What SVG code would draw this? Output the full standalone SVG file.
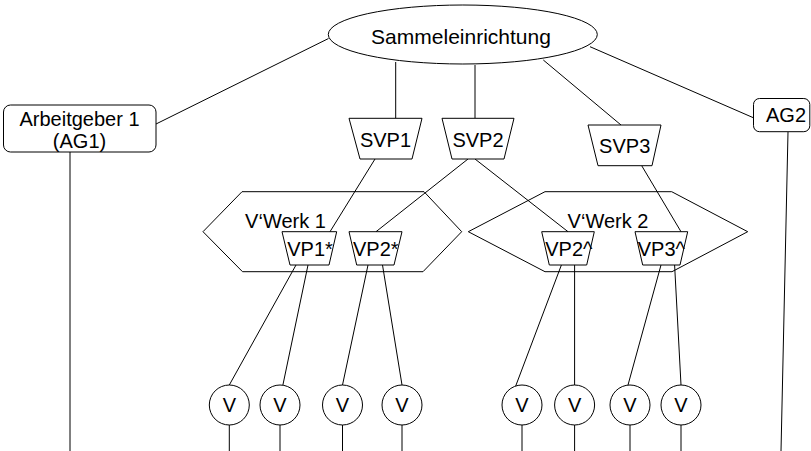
<svg xmlns="http://www.w3.org/2000/svg" width="811" height="451" viewBox="0 0 811 451">
<style>
.s{fill:#fff;stroke:#000;stroke-width:1}
.h{fill:none;stroke:#000;stroke-width:1}
.c line{stroke:#000;stroke-width:1}
text{font-family:"Liberation Sans",Arial,sans-serif;font-size:20px;fill:#000;text-anchor:middle}
</style>
<rect width="811" height="451" fill="#fff"/>
<g id="werk1"><polygon class="h" points="203,231.7 242,191.7 424,191.7 461.7,231.7 423,271.7 242.5,271.7"/><text x="285.5" y="227.7">V‘Werk 1</text></g>
<g id="werk2"><polygon class="h" points="468.3,231.7 545,191.7 671.7,191.7 747.7,231.7 672,271.7 545,271.7"/><text x="608" y="227.7">V‘Werk 2</text></g>
<g class="c" id="connectors">
<line x1="328.5" y1="38.5" x2="156" y2="124"/>
<line x1="395.7" y1="62" x2="395.7" y2="118.3"/>
<line x1="475" y1="65" x2="475" y2="118.3"/>
<line x1="543.3" y1="60" x2="621" y2="125"/>
<line x1="590" y1="46.7" x2="754" y2="118"/>
<line x1="375" y1="159" x2="330" y2="231.7"/>
<line x1="468" y1="159" x2="376" y2="231.7"/>
<line x1="475" y1="159" x2="568" y2="231.7"/>
<line x1="641.7" y1="165.7" x2="681" y2="231.7"/>
<line x1="296" y1="265" x2="229.3" y2="385"/>
<line x1="308" y1="265" x2="282.9" y2="385"/>
<line x1="368" y1="265" x2="342.5" y2="385"/>
<line x1="382.5" y1="265" x2="402" y2="385"/>
<line x1="561.4" y1="265" x2="515.7" y2="386"/>
<line x1="574.6" y1="265" x2="574.6" y2="385"/>
<line x1="661" y1="265" x2="628" y2="385"/>
<line x1="674.6" y1="265" x2="681" y2="385"/>
<line x1="70" y1="152" x2="70" y2="451"/>
<line x1="788" y1="132" x2="781" y2="451"/>
<line x1="229.3" y1="425" x2="229.3" y2="451"/>
<line x1="280" y1="425" x2="280" y2="451"/>
<line x1="342.5" y1="425" x2="342.5" y2="451"/>
<line x1="402" y1="425" x2="402" y2="451"/>
<line x1="522" y1="425" x2="522" y2="451"/>
<line x1="574.6" y1="425" x2="574.6" y2="451"/>
<line x1="630" y1="425" x2="630" y2="451"/>
<line x1="681" y1="425" x2="681" y2="451"/>
</g>
<g id="sammel"><ellipse class="s" cx="462.8" cy="34.5" rx="134.5" ry="29.5"/><text x="461" y="44" style="font-size:21px">Sammeleinrichtung</text></g>
<g id="ag1"><rect class="s" x="3.5" y="105" width="152.5" height="47" rx="7"/><text x="79.5" y="125.7">Arbeitgeber 1</text><text x="79.5" y="148">(AG1)</text></g>
<g id="ag2"><rect class="s" x="753.5" y="98.5" width="56.3" height="33.2" rx="6"/><text x="786" y="121.7">AG2</text></g>
<g id="svp1"><polygon class="s" points="349,118.3 422,118.3 412,159 360,159"/><text x="385.5" y="146.7">SVP1</text></g>
<g id="svp2"><polygon class="s" points="442,118.3 514,118.3 504,159 452,159"/><text x="478" y="146.7">SVP2</text></g>
<g id="svp3"><polygon class="s" points="588,125 661,125 652,165.7 598,165.7"/><text x="624.7" y="153">SVP3</text></g>
<g id="vp1s"><polygon class="h" points="282,231.7 336.7,231.7 329,265 290,265"/><text x="310" y="255.7">VP1*</text></g>
<g id="vp2s"><polygon class="h" points="349,231.7 402,231.7 394,265 356.7,265"/><text x="375.8" y="255.7">VP2*</text></g>
<g id="vp2c"><polygon class="h" points="541.7,231.7 594.3,231.7 586.7,265 549.3,265"/><text x="568.8" y="255.7">VP2^</text></g>
<g id="vp3c"><polygon class="h" points="635,231.7 687.7,231.7 680,265 642.7,265"/><text x="661.3" y="255.7">VP3^</text></g>
<g id="v1"><circle class="s" cx="229.3" cy="405" r="20"/><text x="229.3" y="412">V</text></g>
<g id="v2"><circle class="s" cx="280" cy="405" r="20"/><text x="280" y="412">V</text></g>
<g id="v3"><circle class="s" cx="342.5" cy="405" r="20"/><text x="342.5" y="412">V</text></g>
<g id="v4"><circle class="s" cx="402" cy="405" r="20"/><text x="402" y="412">V</text></g>
<g id="v5"><circle class="s" cx="522" cy="405" r="20"/><text x="522" y="412">V</text></g>
<g id="v6"><circle class="s" cx="574.6" cy="405" r="20"/><text x="574.6" y="412">V</text></g>
<g id="v7"><circle class="s" cx="630" cy="405" r="20"/><text x="630" y="412">V</text></g>
<g id="v8"><circle class="s" cx="681" cy="405" r="20"/><text x="681" y="412">V</text></g>
</svg>
